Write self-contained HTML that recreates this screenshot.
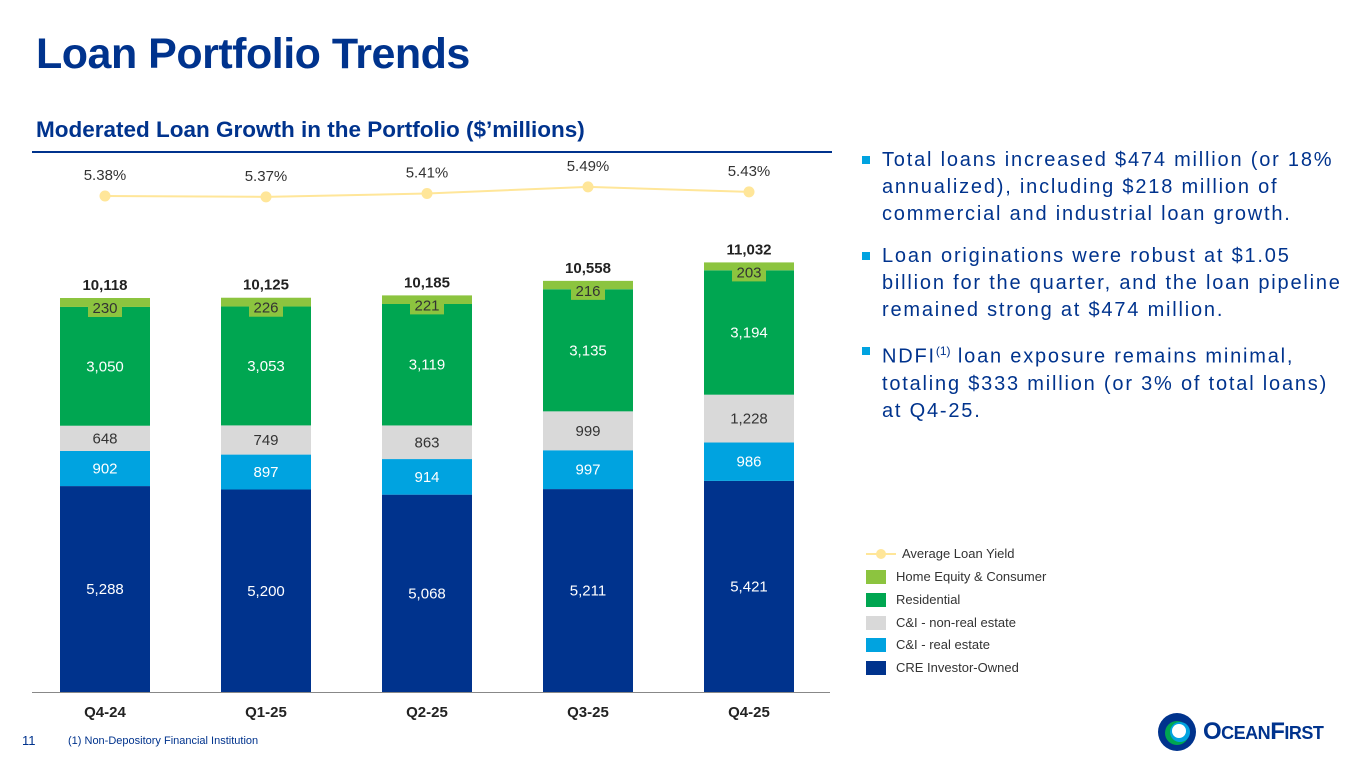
<!DOCTYPE html>
<html><head><meta charset="utf-8"><style>
body{margin:0;width:1365px;height:768px;background:#fff;font-family:"Liberation Sans",sans-serif;overflow:hidden;position:relative}
.abs{position:absolute}
h1{position:absolute;left:36px;top:30px;margin:0;font-size:43px;font-weight:bold;color:#00338d;letter-spacing:-0.5px}
h2{position:absolute;left:36px;top:117px;margin:0;font-size:22.5px;font-weight:bold;color:#00338d;letter-spacing:0px}
.bul{position:absolute;left:862px;width:472px;font-size:20px;letter-spacing:1.8px;color:#00338d;line-height:27px;padding-left:20px}
.bul:before{content:"";position:absolute;left:0;top:9px;width:8px;height:8px;background:#00a3e0}
.leg{position:absolute;left:866px;font-size:13px;color:#333;display:flex;align-items:center}
.sw{width:20px;height:14px;margin-right:10px}
</style></head><body>
<h1>Loan Portfolio Trends</h1>
<h2>Moderated Loan Growth in the Portfolio ($’millions)</h2>
<div class="abs" style="left:32px;top:151px;width:800px;height:2px;background:#00338d"></div>
<svg id="chart" class="abs" style="left:0;top:0" width="840" height="730"></svg>
<div class="bul" style="top:147px">Total loans increased $474 million (or 18% annualized), including $218 million of commercial and industrial loan growth.</div>
<div class="bul" style="top:243px">Loan originations were robust at $1.05 billion for the quarter, and the loan pipeline remained strong at $474 million.</div>
<div class="bul" style="top:338px">NDFI<sup style="font-size:12px;letter-spacing:0">(1)</sup> loan exposure remains minimal, totaling $333 million (or 3% of total loans) at Q4-25.</div>
<div class="leg" style="top:546px"><svg width="30" height="14" style="margin-right:6px"><line x1="0" y1="7" x2="30" y2="7" stroke="#ffe699" stroke-width="2"/><circle cx="15" cy="7" r="5" fill="#ffe699"/></svg>Average Loan Yield</div>
<div class="leg" style="top:569px"><div class="sw" style="background:#8cc43f"></div>Home Equity &amp; Consumer</div>
<div class="leg" style="top:592px"><div class="sw" style="background:#00a651"></div>Residential</div>
<div class="leg" style="top:615px"><div class="sw" style="background:#d9d9d9"></div>C&amp;I - non-real estate</div>
<div class="leg" style="top:637px"><div class="sw" style="background:#00a3e0"></div>C&amp;I - real estate</div>
<div class="leg" style="top:660px"><div class="sw" style="background:#00338d"></div>CRE Investor-Owned</div>
<div class="abs" style="left:22px;top:733px;font-size:13px;color:#00338d">11</div>
<div class="abs" style="left:68px;top:735px;font-size:11px;color:#00338d">(1) Non-Depository Financial Institution</div>
<div class="abs" style="left:1157px;top:712px;display:flex;align-items:center">
<svg width="40" height="40" viewBox="0 0 40 40"><circle cx="20" cy="20" r="19" fill="#00338d"/><circle cx="20" cy="21" r="12" fill="#00a651"/><circle cx="23" cy="20" r="10" fill="#00a3e0"/><circle cx="22" cy="19" r="7" fill="#fff"/></svg>
<span style="font-weight:bold;color:#00338d;font-size:24px;margin-left:6px;letter-spacing:-0.5px">O<span style="font-size:18px">CEAN</span>F<span style="font-size:18px">IRST</span></span></div>
<script>
const categories=["Q4-24","Q1-25","Q2-25","Q3-25","Q4-25"];
const cre=[5288,5200,5068,5211,5421];
const ciRe=[902,897,914,997,986];
const ciNonRe=[648,749,863,999,1228];
const residential=[3050,3053,3119,3135,3194];
const homeEquity=[230,226,221,216,203];
const totals=[10118,10125,10185,10558,11032];
const yields=[5.38,5.37,5.41,5.49,5.43];
const svg=document.getElementById('chart');
const NS="http://www.w3.org/2000/svg";
const base=692,pxPer=394/10118,bw=90,x0=105,step=161;
const xc=i=>x0+i*step;
const y=v=>base-v*pxPer;
const yy=v=>196-(v-5.38)*83;
function mk(t,a){const e=document.createElementNS(NS,t);for(const k in a)e.setAttribute(k,a[k]);svg.appendChild(e);return e;}
function fmt(v){return v.toLocaleString('en-US');}
const series=[[cre,"#00338d","#fff","cre"],[ciRe,"#00a3e0","#fff","ci-re"],[ciNonRe,"#d9d9d9","#333","ci-nonre"],[residential,"#00a651","#fff","residential"],[homeEquity,"#8cc43f","#333","home-equity"]];
let ax=mk('line',{x1:32,x2:830,y1:base+0.5,y2:base+0.5,stroke:'#888','stroke-width':1});


categories.forEach((c,i)=>{
 let cum=0;
 series.forEach(([arr,col,tc,nm],si)=>{
  const v=arr[i];const top=y(cum+v),bot=y(cum);
  const r=mk('rect',{x:xc(i)-bw/2,y:top,width:bw,height:bot-top,fill:col});
  
  
  let ly=(top+bot)/2+5;
  if(si==4){ly=top+15;mk('rect',{x:xc(i)-17,y:top+3,width:34,height:16,fill:'#8cc43f'});}
  const t=mk('text',{x:xc(i),y:ly,'text-anchor':'middle','font-size':15,fill:tc});
  t.textContent=fmt(v);
  
  
  cum+=v;
 });
 const tt=mk('text',{x:xc(i),y:y(totals[i])-8,'text-anchor':'middle','font-size':15,'font-weight':'bold',fill:'#222'});
 tt.textContent=fmt(totals[i]);
 
 
 const xl=mk('text',{x:xc(i),y:717,'text-anchor':'middle','font-size':15,'font-weight':'bold',fill:'#222'});
 xl.textContent=c;
 
 
});
const pl=mk('polyline',{points:yields.map((v,i)=>xc(i)+','+yy(v)).join(' '),fill:'none',stroke:'#ffe699','stroke-width':2});


yields.forEach((v,i)=>{
 const c=mk('circle',{cx:xc(i),cy:yy(v),r:5.5,fill:'#ffe699'});
 
 
 const t=mk('text',{x:xc(i),y:yy(v)-16,'text-anchor':'middle','font-size':15,fill:'#333'});
 t.textContent=v.toFixed(2)+'%';
 
 
});
</script>
</body></html>
